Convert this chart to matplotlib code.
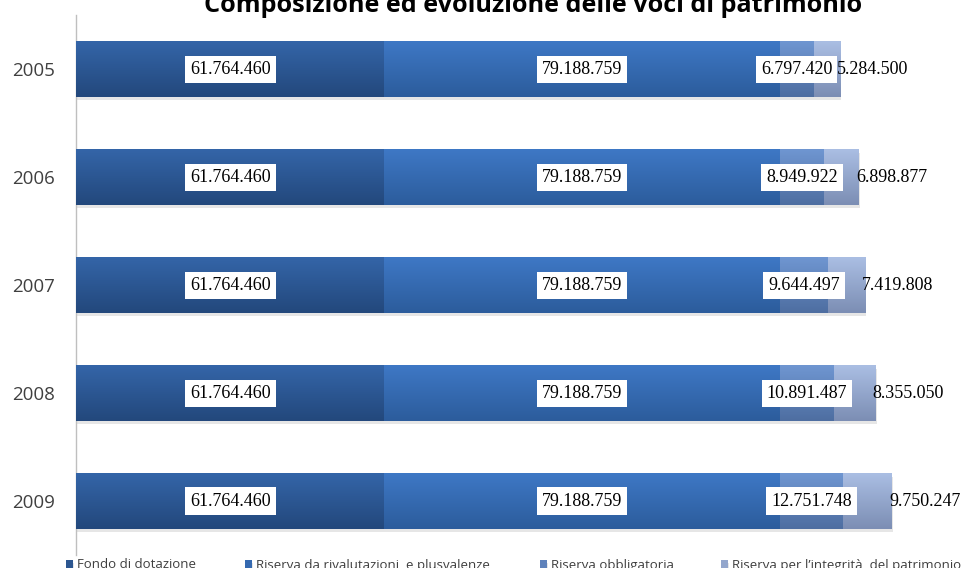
import matplotlib
matplotlib.use("Agg")
import matplotlib.pyplot as plt
import numpy as np
from matplotlib.colors import LinearSegmentedColormap
import matplotlib.patheffects as pe

years = ["2005", "2006", "2007", "2008", "2009"]
fondo = [61764460, 61764460, 61764460, 61764460, 61764460]
rivalutazioni = [79188759, 79188759, 79188759, 79188759, 79188759]
obbligatoria = [6797420, 8949922, 9644497, 10891487, 12751748]
integrita = [5284500, 6898877, 7419808, 8355050, 9750247]
series_names = ["Fondo di dotazione", "Riserva da rivalutazioni  e plusvalenze",
                "Riserva obbligatoria", "Riserva per l\u2019integrità  del patrimonio"]
title = "Composizione ed evoluzione delle voci di patrimonio"

mid_colors = ["#2C5690", "#3569B0", "#5F82BB", "#93A6CC"]
grad_colors = [("#3465A8", "#23487C"), ("#3E78C5", "#2C5C9C"),
               ("#6F96D1", "#4E6EA1"), ("#AABEE3", "#7C8EB4")]

W, H = 969, 568
fig = plt.figure(figsize=(W / 100, H / 100), dpi=100)
ax_left, ax_right = 76 / W, 1.0
ax_top, ax_bot = 1 - 15.5 / H, 1 - 555 / H
ax = fig.add_axes([ax_left, ax_bot, ax_right - ax_left, ax_top - ax_bot])

def fmt(v):
    return f"{v:,}".replace(",", ".")

ypos = np.arange(len(years))
data = [fondo, rivalutazioni, obbligatoria, integrita]
left = np.zeros(len(years))
containers = []
for i, vals in enumerate(data):
    bc = ax.barh(ypos, vals, left=left, height=0.51, color=mid_colors[i],
                 label=series_names[i], zorder=2)
    for p in bc.patches:
        p.set_path_effects([pe.SimplePatchShadow(offset=(1, -2.2), shadow_rgbFace="#909090", alpha=0.22),
                            pe.Normal()])
    containers.append(bc)
    cmap = LinearSegmentedColormap.from_list(f"g{i}", list(grad_colors[i]))
    grad = np.linspace(0, 1, 64).reshape(-1, 1)
    for p in bc.patches:
        x0, y0, w, h = p.get_x(), p.get_y(), p.get_width(), p.get_height()
        ax.imshow(grad, extent=(x0, x0 + w, y0 + h, y0), origin="upper",
                  aspect="auto", cmap=cmap, zorder=3, interpolation="bilinear")
    left = left + np.array(vals)

# labels
label_font = dict(family="Liberation Serif", size=13, color="black")
box = dict(boxstyle="square,pad=0.28", fc="white", ec="none")
for i in range(3):
    for p, v in zip(containers[i].patches, data[i]):
        cx = p.get_x() + p.get_width() / 2
        cy = p.get_y() + p.get_height() / 2
        ax.text(cx, cy, fmt(v), ha="center", va="center", bbox=box, zorder=6, **label_font)
for p, v in zip(containers[3].patches, data[3]):
    end = p.get_x() + p.get_width()
    cy = p.get_y() + p.get_height() / 2
    ax.annotate(fmt(v), xy=(end, cy), xytext=(23.5, 0), textcoords="offset points",
                ha="center", va="center", zorder=5, **label_font)

ax.set_xlim(0, 893 / 4.992 * 1e6)
ax.set_ylim(4.5, -0.5)
ax.set_aspect("auto")
for s in ["top", "right", "bottom"]:
    ax.spines[s].set_visible(False)
ax.spines["left"].set_color("#BFBFBF")
ax.spines["left"].set_linewidth(1)
ax.set_xticks([])
ax.set_yticks(ypos)
ax.set_yticklabels(years, family="Open Sans", fontsize=13.5, color="#404040")
ax.tick_params(axis="y", length=0, pad=15)
ax.patch.set_alpha(0)

fig.text(533.5 / W, 1 - 12 / H, title, ha="center", va="baseline",
         family="Open Sans", fontweight="bold", fontsize=18.2, color="black")

leg_x = [66, 245, 540, 721]
for i in range(4):
    lg = fig.legend(handles=[containers[i]], labels=[series_names[i]],
                    loc="center left", bbox_to_anchor=(leg_x[i] / W, 1 - 565 / H),
                    frameon=False, handlelength=0.5, handleheight=0.5,
                    handletextpad=0.3, borderpad=0, borderaxespad=0,
                    prop=dict(family="Open Sans", size=9.5))
    for t in lg.get_texts():
        t.set_color("#3F3F3F")

fig.savefig("out.png", dpi=100)
